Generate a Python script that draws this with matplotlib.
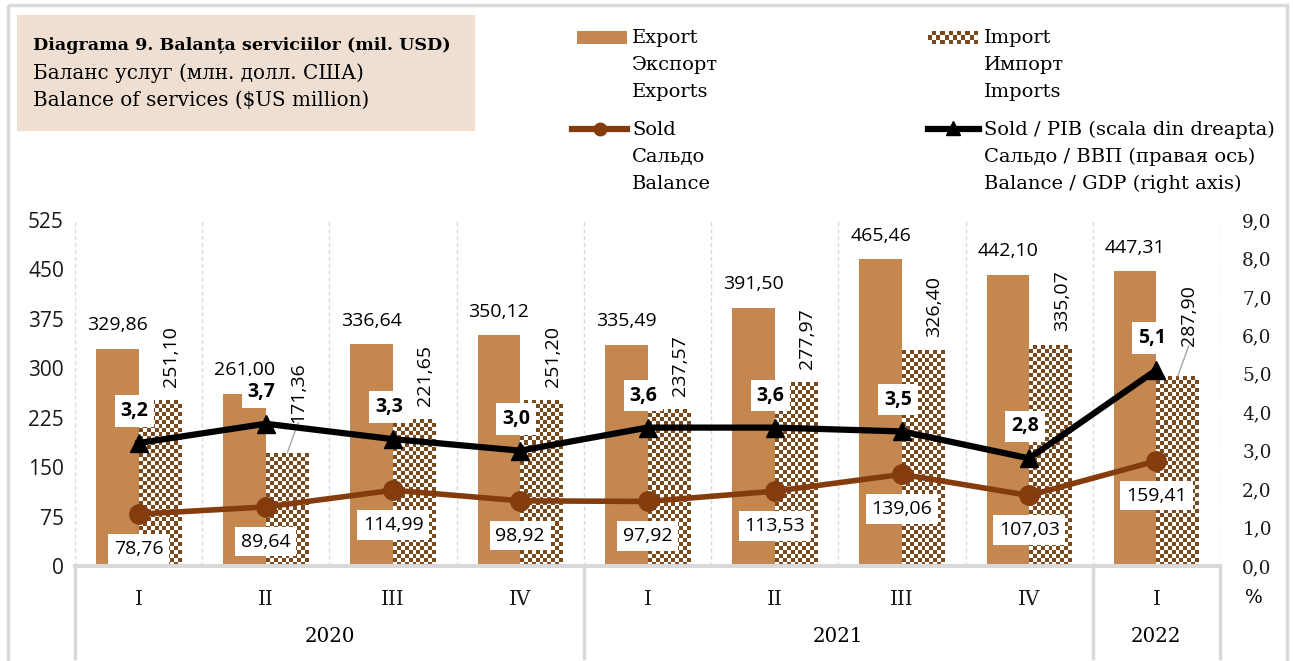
import numpy as np
import matplotlib
matplotlib.use("Agg")
import matplotlib.pyplot as plt
from matplotlib.colors import ListedColormap
from matplotlib.lines import Line2D
from matplotlib.patches import Rectangle
import matplotlib.transforms as mtransforms

# data
quarters = ["I", "II", "III", "IV", "I", "II", "III", "IV", "I"]
years = ["2020", "2021", "2022"]
year_spans = [(0, 3), (4, 7), (8, 8)]
export = [329.86, 261.00, 336.64, 350.12, 335.49, 391.50, 465.46, 442.10, 447.31]
imports = [251.10, 171.36, 221.65, 251.20, 237.57, 277.97, 326.40, 335.07, 287.90]
sold = [78.76, 89.64, 114.99, 98.92, 97.92, 113.53, 139.06, 107.03, 159.41]
sold_pib = [3.2, 3.7, 3.3, 3.0, 3.6, 3.6, 3.5, 2.8, 5.1]

C_EXP = "#C4874F"
C_IMP = "#7A4A1E"
C_SOLD = "#843C0C"
C_GRID = "#D9D9D9"
SERIF = "DejaVu Serif"
SANS = "Open Sans"
FS = 14

def fmt(v, d=2):
    return f"{v:.{d}f}".replace(".", ",")

W, H = 1293, 661
fig = plt.figure(figsize=(W / 100, H / 100), dpi=100)

# pixel-coordinate overlay for frame, title box and legend
bg = fig.add_axes([0, 0, 1, 1], zorder=-5)
bg.set_xlim(0, W)
bg.set_ylim(H, 0)
bg.axis("off")
bg.add_patch(Rectangle((8, 5), 1279, 700, fill=False, ec=C_GRID, lw=2.5))
bg.add_patch(Rectangle((17, 15), 458, 116, fc="#EEDFD2", ec="none"))
bg.text(33, 45, "Diagrama 9. Balanța serviciilor (mil. USD)", family=SERIF,
        fontsize=12.6, fontweight="bold", va="center")
bg.text(33, 73, "Баланс услуг (млн. долл. США)", family=SERIF, fontsize=14.3, va="center")
bg.text(33, 100, "Balance of services ($US million)", family=SERIF, fontsize=14.3, va="center")

fig2 = fig.add_axes([0, 0, 1, 1], zorder=10)
fig2.axis("off")

leg_rows = 27
def leg_text(x, y0, lines):
    for i, t in enumerate(lines):
        fig2.text(x, y0 + i * leg_rows, t, family=SERIF, fontsize=FS, va="center")

fig2.add_patch(Rectangle((577, 31), 50, 13, fc=C_EXP, ec="none"))
leg_text(632, 38, ["Export", "Экспорт", "Exports"])
# checker swatch for import
sw = np.indices((3, 12)).sum(axis=0) % 2
fig2.imshow(sw, extent=(928, 978, 44, 31), cmap=ListedColormap(["white", C_IMP]),
            interpolation="nearest", aspect="auto")
leg_text(984, 38, ["Import", "Импорт", "Imports"])
fig2.add_line(Line2D([572, 627], [129, 129], color=C_SOLD, lw=4.5))
fig2.plot([600], [129], "o", color=C_SOLD, ms=9)
leg_text(632, 130, ["Sold", "Сальдо", "Balance"])
fig2.add_line(Line2D([928, 979], [129, 129], color="black", lw=4.5))
fig2.plot([953], [128], "^", color="black", ms=10)
leg_text(984, 130, ["Sold / PIB (scala din dreapta)", "Сальдо / ВВП (правая ось)",
                    "Balance / GDP (right axis)"])
fig2.set_xlim(0, W)
fig2.set_ylim(H, 0)

# main axes
L, R, T, B = 75, 1220, 220, 566
ax = fig.add_axes([L / W, 1 - B / H, (R - L) / W, (B - T) / H])
ax2 = ax.twinx()
ax.set_zorder(1)
ax2.set_zorder(2)
ax.patch.set_visible(False)

x = np.arange(len(quarters))
bw = 0.335
ax.bar(x - bw / 2, export, bw, color=C_EXP, zorder=2)
ibars = ax.bar(x + bw / 2, imports, bw, color="white", zorder=2)

# checkerboard fill for import bars
cell = 4.0
px_per_x = (R - L) / len(quarters)
px_per_y = (B - T) / 525
cmap = ListedColormap(["white", C_IMP])
for b in ibars:
    x0, w, h = b.get_x(), b.get_width(), b.get_height()
    nx = max(1, int(round(w * px_per_x / cell)))
    ny = max(1, int(round(h * px_per_y / cell)))
    chk = np.indices((ny, nx)).sum(axis=0) % 2
    ax.imshow(chk, extent=(x0, x0 + w, 0, h), cmap=cmap, interpolation="nearest",
              aspect="auto", origin="lower", zorder=2)
ax.set_xlim(-0.5, len(quarters) - 0.5)
ax.set_ylim(0, 525)

# gridlines at category boundaries
for k in range(len(quarters) + 1):
    ax.axvline(k - 0.5, color=C_GRID, lw=1, ls=(0, (3, 2)), zorder=0)

ax.plot(x, sold, color=C_SOLD, lw=4, marker="o", ms=14, zorder=4)
ax2.plot(x, sold_pib, color="black", lw=4.5, marker="^", ms=13, zorder=4)
ax2.set_ylim(0, 9)

ax.set_yticks(np.arange(0, 526, 75))
ax2.set_yticks(np.arange(0, 9.1, 1))
ax2.set_yticklabels([fmt(v, 1) for v in np.arange(0, 9.1, 1)])
for a in (ax, ax2):
    for s in a.spines.values():
        s.set_visible(False)
    a.tick_params(length=0, labelcolor="#1a1a1a")
ax.tick_params(axis="y", pad=8, labelsize=15)
for lab in ax.get_yticklabels():
    lab.set_family(SANS)
ax2.tick_params(axis="y", pad=16, labelsize=13.3)
for lab in ax2.get_yticklabels():
    lab.set_family(SERIF)
ax.set_xticks(x)
ax.set_xticklabels(quarters, family=SERIF, fontsize=14.3)
ax.tick_params(axis="x", pad=17)

# category axis lines
ax.axhline(0, color=C_GRID, lw=3, zorder=3, clip_on=False)
tr = mtransforms.blended_transform_factory(ax.transData, ax.transAxes)
drop = 92 / (B - T)
for xs in [-0.5] + [s[1] + 0.5 for s in year_spans]:
    ax.add_line(Line2D([xs, xs], [0, -drop], transform=tr, color=C_GRID, lw=2.5,
                       clip_on=False))
for yr, (a0, a1) in zip(years, year_spans):
    ax.text((a0 + a1) / 2, -71 / (B - T), yr, transform=tr, ha="center", va="center",
            family=SERIF, fontsize=14.3)
ax2.text(1.03, -32 / (B - T), "%", transform=ax2.transAxes, ha="center", va="center",
         family=SERIF, fontsize=13.5)

# data labels
lifted = {1, 8}  # import labels Excel pushed up with a leader line
for xi, v in zip(x, export):
    ax.annotate(fmt(v), (xi - bw / 2, v), xytext=(0, 17), textcoords="offset points",
                ha="center", va="center", family=SANS, fontsize=14, zorder=6)
for i, (xi, v) in enumerate(zip(x, imports)):
    up = 22 if i in lifted else 10
    ax.annotate(fmt(v), (xi + bw / 2, v), xytext=(8, up), textcoords="offset points",
                ha="center", va="bottom", rotation=90, family=SANS, fontsize=14, zorder=6)
    if i in lifted:
        ax.annotate("", (xi + bw / 2, v), xytext=(8, up), textcoords="offset points",
                    arrowprops=dict(arrowstyle="-", color="#A6A6A6", lw=1,
                                    shrinkA=0, shrinkB=0))
box = dict(boxstyle="square,pad=0.3", fc="white", ec="none")
for xi, v in zip(x, sold):
    ax.annotate(fmt(v), (xi, v), xytext=(0, -25), textcoords="offset points",
                ha="center", va="center", family=SANS, fontsize=14, bbox=box, zorder=6)
for xi, v in zip(x, sold_pib):
    ax2.annotate(fmt(v, 1), (xi, v), xytext=(-3, 23), textcoords="offset points",
                 ha="center", va="center", family=SANS, fontsize=14, fontweight="bold",
                 bbox=box, zorder=6)

fig.savefig("out.png", dpi=100)
